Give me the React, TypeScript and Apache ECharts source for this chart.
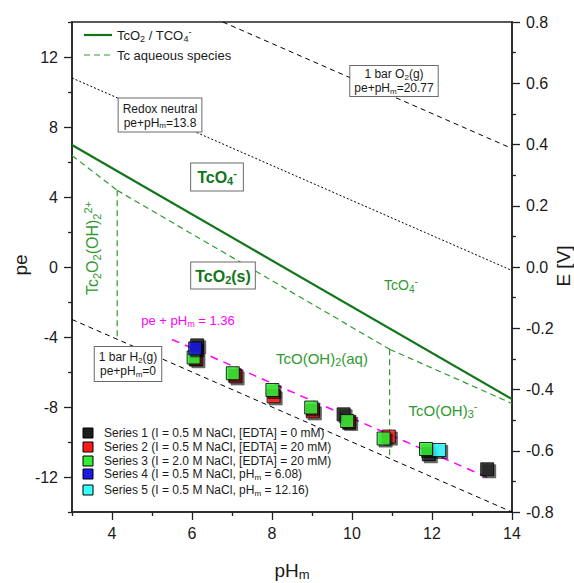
import React, { useEffect, useRef } from "react";
import * as echarts from "echarts";

// ---- data ----
const X_MAJOR = [4, 6, 8, 10, 12, 14];
const X_MINOR = [3, 5, 7, 9, 11, 13];
const Y_MAJOR = [-12, -8, -4, 0, 4, 8, 12];
const Y_MINOR = [-14, -10, -6, -2, 2, 6, 10, 14];

const neutralPH = [3, 14];
const neutralPe = [10.8, -0.2];
const o2PH = [6.77, 14];
const o2Pe = [14, 6.77];
const h2PH = [3, 14];
const h2Pe = [-3, -14];
const fitPH = [5.5, 13.5];
const fitPe = [-4.14, -12.14];
const tcSolidPH = [3, 14];
const tcSolidPe = [6.97, -7.55];

const aq1PH = [3, 4.13];
const aq1Pe = [6.37, 4.38];
const aq2PH = [4.13, 10.94];
const aq2Pe = [4.38, -4.7];
const aq3PH = [10.94, 14];
const aq3Pe = [-4.7, -7.8];
const aq4PH = [4.13, 4.13];
const aq4Pe = [4.38, -4.13];
const aq5PH = [10.94, 10.94];
const aq5Pe = [-4.7, -10.94];

const s1PH = [6.13, 9.79, 11.92, 13.38];
const s1Pe = [-4.48, -8.42, -10.7, -11.56];
const s2PH = [6.11, 7.09, 8.04, 9.02, 9.93, 10.92];
const s2Pe = [-5.27, -6.25, -7.39, -8.25, -8.85, -9.69];
const s3PH = [6.04, 7.02, 8.01, 8.98, 9.88, 10.79, 11.85];
const s3Pe = [-5.17, -6.07, -7.03, -8.03, -8.8, -9.8, -10.4];
const s4PH = [6.08];
const s4Pe = [-4.65];
const s5PH = [12.18];
const s5Pe = [-10.46];

const seriesNames = [
  "Series 1 (I = 0.5 M NaCl, [EDTA] = 0 mM)",
  "Series 2 (I = 0.5 M NaCl, [EDTA] = 20 mM)",
  "Series 3 (I = 2.0 M NaCl, [EDTA] = 20 mM)",
  "Series 4 (I = 0.5 M NaCl, pH{sub|m} = 6.08)",
  "Series 5 (I = 0.5 M NaCl, pH{sub|m} = 12.16)",
];
const seriesColors = ["#1c1c1c", "#ff1a1a", "#33ee33", "#1a1ae6", "#33ffff"];

const FONT = "'Liberation Sans', Arial, sans-serif";
const DARK_GREEN = "#11761a";
const MID_GREEN = "#2f9a2f";

const zip = (a: number[], b: number[]) => a.map((v, i) => [v, b[i]]);

function rich(fs: number, color: string, weight: string = "normal") {
  const s = Math.round(fs * 0.7);
  return {
    sub: { fontSize: s, lineHeight: s, verticalAlign: "bottom", fontFamily: FONT, fontWeight: weight, fill: color },
    sup: { fontSize: s, lineHeight: s, verticalAlign: "top", fontFamily: FONT, fontWeight: weight, fill: color },
  };
}

function txt(x: number, y: number, text: string, fs: number, color: string, extra: any = {}, weight = "normal") {
  const { rotation, ...styleExtra } = extra;
  return {
    type: "text",
    x,
    y,
    z: 100,
    rotation: rotation || 0,
    style: {
      text,
      fontSize: fs,
      fontFamily: FONT,
      fontWeight: weight,
      fill: color,
      align: "center",
      verticalAlign: "middle",
      lineHeight: fs + 3,
      rich: rich(fs, color, weight),
      ...styleExtra,
    },
  };
}

const boxStyle = { backgroundColor: "#ffffff", borderColor: "#6a6a6a", borderWidth: 1 };

export default function App() {
  const ref = useRef<HTMLDivElement>(null);
  useEffect(() => {
    if (!ref.current) return;
    const chart = echarts.init(ref.current, undefined, { renderer: "svg" });

    const axisLine = { show: true, onZero: false, lineStyle: { color: "#222", width: 1.5 } };
    const tickStyle = { color: "#222", width: 1.3 };

    const lineSeries = (name: string, xs: number[], ys: number[], color: string, width: number, type: any) => ({
      type: "line",
      name,
      data: zip(xs, ys),
      symbol: "none",
      silent: true,
      z: 2,
      lineStyle: { color, width, type },
    });

    const dashedGreen = [6, 4];

    const scatter = (i: number, xs: number[], ys: number[]) => ({
      type: "scatter",
      name: seriesNames[i],
      data: zip(xs, ys),
      symbol: "rect",
      symbolSize: 13,
      z: 5,
      itemStyle: {
        color: seriesColors[i],
        borderColor: "#000",
        borderWidth: 1,
        shadowColor: "rgba(0,0,0,0.7)",
        shadowOffsetX: 2,
        shadowOffsetY: 2,
        shadowBlur: 1,
      },
    });

    const legendRowsY = [433, 447, 461, 474, 490];
    const legendGraphics: any[] = [];
    seriesNames.forEach((n, i) => {
      legendGraphics.push({
        type: "rect",
        z: 100,
        shape: { x: 83, y: legendRowsY[i] - 5, width: 10, height: 10 },
        style: { fill: seriesColors[i], stroke: "#000", lineWidth: 1 },
      });
      legendGraphics.push(txt(104, legendRowsY[i], n, 12, "#1a1a1a", { align: "left", lineHeight: 14 }));
    });

    const option: any = {
      animation: false,
      textStyle: { fontFamily: FONT },
      grid: { left: 72, right: 62, top: 22, bottom: 71, show: true, borderColor: "#222", borderWidth: 1.5 },
      xAxis: [
        {
          type: "value",
          min: 3,
          max: 14,
          position: "bottom",
          axisLine,
          splitLine: { show: false },
          axisTick: { show: true, length: 8, lineStyle: tickStyle, customValues: X_MAJOR },
          axisLabel: { customValues: X_MAJOR, fontSize: 16, color: "#1a1a1a", margin: 13, fontFamily: FONT },
        },
        {
          type: "value",
          min: 3,
          max: 14,
          position: "bottom",
          axisLine: { show: false, onZero: false },
          splitLine: { show: false },
          axisTick: { show: true, length: 4, lineStyle: tickStyle, customValues: X_MINOR },
          axisLabel: { show: false },
        },
      ],
      yAxis: [
        {
          type: "value",
          min: -14,
          max: 14,
          position: "left",
          axisLine,
          splitLine: { show: false },
          axisTick: { show: true, length: 8, lineStyle: tickStyle, customValues: Y_MAJOR },
          axisLabel: { customValues: Y_MAJOR, fontSize: 16, color: "#1a1a1a", margin: 14, fontFamily: FONT },
        },
        {
          type: "value",
          min: -14,
          max: 14,
          position: "left",
          axisLine: { show: false, onZero: false },
          splitLine: { show: false },
          axisTick: { show: true, length: 4, lineStyle: tickStyle, customValues: Y_MINOR },
          axisLabel: { show: false },
        },
        {
          type: "value",
          min: -0.8,
          max: 0.8,
          interval: 0.2,
          position: "right",
          axisLine,
          splitLine: { show: false },
          axisTick: { show: true, length: 8, lineStyle: tickStyle },
          minorTick: { show: true, splitNumber: 2, length: 4, lineStyle: tickStyle },
          axisLabel: {
            fontSize: 16,
            color: "#1a1a1a",
            margin: 14,
            fontFamily: FONT,
            formatter: (v: number) => (Math.abs(v) < 1e-9 ? "0.0" : v.toFixed(1)),
          },
        },
      ],
      series: [
        lineSeries("neutral", neutralPH, neutralPe, "#000", 1, [2, 2]),
        lineSeries("O2", o2PH, o2Pe, "#000", 1, [5, 4]),
        lineSeries("H2", h2PH, h2Pe, "#000", 1, [5, 4]),
        lineSeries("TcO2 / TCO4-", tcSolidPH, tcSolidPe, DARK_GREEN, 2.2, "solid"),
        lineSeries("Tc aqueous species", aq1PH, aq1Pe, MID_GREEN, 1.2, dashedGreen),
        lineSeries("Tc aqueous species", aq2PH, aq2Pe, MID_GREEN, 1.2, dashedGreen),
        lineSeries("Tc aqueous species", aq3PH, aq3Pe, MID_GREEN, 1.2, dashedGreen),
        lineSeries("Tc aqueous species", aq4PH, aq4Pe, MID_GREEN, 1.2, dashedGreen),
        lineSeries("Tc aqueous species", aq5PH, aq5Pe, MID_GREEN, 1.2, dashedGreen),
        lineSeries("fit", fitPH, fitPe, "#ff00ff", 1.5, [8, 6]),
        scatter(0, s1PH, s1Pe),
        scatter(1, s2PH, s2Pe),
        scatter(2, s3PH, s3Pe),
        scatter(3, s4PH, s4Pe),
        scatter(4, s5PH, s5Pe),
      ],
      graphic: [
        // axis titles
        txt(292, 570, "pH{sub|m}", 19, "#1a1a1a", { lineHeight: 22 }),
        txt(20, 265, "pe", 19, "#1a1a1a", { rotation: Math.PI / 2 }),
        txt(563, 266, "E [V]", 19, "#1a1a1a", { rotation: Math.PI / 2 }),
        // top legend
        {
          type: "line",
          z: 100,
          shape: { x1: 84, y1: 35, x2: 112, y2: 35 },
          style: { stroke: DARK_GREEN, lineWidth: 2.2 },
        },
        txt(117, 35, "TcO{sub|2} / TCO{sub|4}{sup|-}", 13, "#1a1a1a", { align: "left", lineHeight: 16 }),
        {
          type: "line",
          z: 100,
          shape: { x1: 84, y1: 55, x2: 112, y2: 55 },
          style: { stroke: MID_GREEN, lineWidth: 1.2, lineDash: [6, 4] },
        },
        txt(117, 55, "Tc aqueous species", 13, "#1a1a1a", { align: "left" }),
        // boxed annotations
        txt(160, 115, "Redox neutral\npe+pH{sub|m}=13.8", 12, "#1a1a1a", { ...boxStyle, padding: [3, 4, 2, 4], lineHeight: 14 }),
        txt(394, 81, "1 bar O{sub|2}(g)\npe+pH{sub|m}=20.77", 12, "#1a1a1a", { ...boxStyle, padding: [1, 4, 1, 4], lineHeight: 14 }),
        txt(128, 364, "1 bar H{sub|2}(g)\npe+pH{sub|m}=0", 12, "#1a1a1a", { ...boxStyle, padding: [3, 4, 3, 4], lineHeight: 14 }),
        txt(217, 177, "TcO{sub|4}{sup|-}", 16, DARK_GREEN, { ...boxStyle, padding: [4, 6, 4, 6], lineHeight: 19 }, "bold"),
        txt(223, 275.5, "TcO{sub|2}(s)", 16, DARK_GREEN, { ...boxStyle, padding: [4, 4, 3, 4], lineHeight: 19 }, "bold"),
        // region labels
        txt(92, 248, "Tc{sub|2}O{sub|2}(OH){sub|2}{sup|2+}", 16, MID_GREEN, { rotation: Math.PI / 2, lineHeight: 20 }),
        txt(401, 285, "TcO{sub|4}{sup|-}", 14, MID_GREEN, { lineHeight: 18 }),
        txt(322, 358, "TcO(OH){sub|2}(aq)", 15, MID_GREEN, { lineHeight: 19 }),
        txt(443, 410, "TcO(OH){sub|3}{sup|-}", 15, MID_GREEN, { lineHeight: 19 }),
        txt(188, 320, "pe + pH{sub|m} = 1.36", 13, "#ff00ff", { lineHeight: 17 }),
        ...legendGraphics,
      ],
    };

    chart.setOption(option);
    return () => chart.dispose();
  }, []);

  return (
    <div
      ref={ref}
      style={{ position: "fixed", left: 0, top: 0, width: 574, height: 583, background: "#fff" }}
    />
  );
}
